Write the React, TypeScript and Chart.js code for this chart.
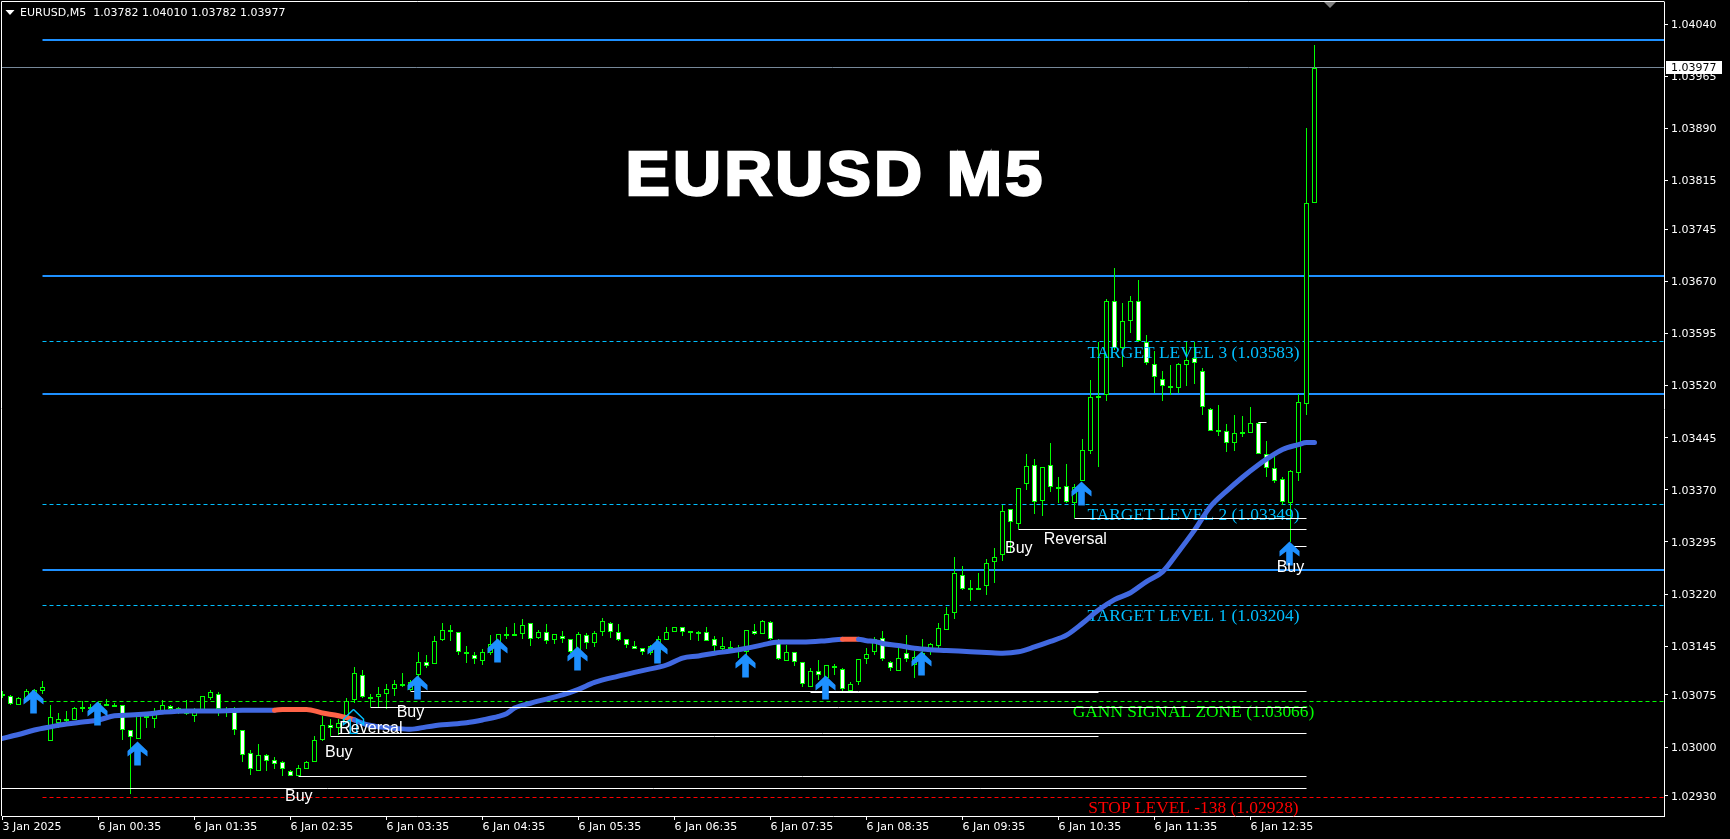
import React, { useEffect, useRef } from 'react';
import { Chart, registerables } from 'chart.js';

Chart.register(...registerables);

// ---- Candles (bar index 0 .. 164, 5-minute bars) ----
const opens = [
  1.03075,1.03074,1.03061,1.03068,1.03072,1.03081,1.03008,1.03034,1.03039,1.03039,
  1.03056,1.03057,1.03051,1.03061,1.03060,1.03061,1.03024,1.03012,1.03043,1.03041,
  1.03052,1.03059,1.03055,1.03055,1.03045,1.03053,1.03071,1.03077,1.03053,1.03056,
  1.03024,1.02991,1.02966,1.02989,1.02982,1.02979,1.02966,1.02959,1.02969,1.02979,
  1.03010,1.03031,1.03027,1.03036,1.03067,1.03103,1.03071,1.03072,1.03077,1.03083,
  1.03090,1.03082,1.03104,1.03123,1.03120,1.03154,1.03168,1.03165,1.03135,1.03133,
  1.03124,1.03135,1.03149,1.03162,1.03162,1.03162,1.03178,1.03157,1.03165,1.03154,
  1.03160,1.03155,1.03140,1.03161,1.03150,1.03165,1.03179,1.03165,1.03155,1.03146,
  1.03143,1.03135,1.03135,1.03154,1.03165,1.03172,1.03166,1.03165,1.03166,1.03155,
  1.03141,1.03143,1.03142,1.03136,1.03167,1.03162,1.03180,1.03154,1.03124,1.03136,
  1.03122,1.03087,1.03110,1.03099,1.03116,1.03112,1.03081,1.03093,1.03126,1.03136,
  1.03157,1.03123,1.03110,1.03135,1.03118,1.03127,1.03139,1.03146,1.03169,1.03193,
  1.03248,1.03228,1.03228,1.03231,1.03266,1.03276,1.03342,1.03321,1.03378,1.03405,
  1.03354,1.03405,1.03373,1.03375,1.03351,1.03382,1.03426,1.03504,1.03506,1.03641,
  1.03574,1.03613,1.03642,1.03583,1.03551,1.03530,1.03520,1.03517,1.03550,1.03559,
  1.03541,1.03486,1.03455,1.03455,1.03438,1.03452,1.03452,1.03466,1.03422,1.03402,
  1.03385,1.03351,1.03394,1.03494,1.03782,
];
const highs = [
  1.03080,1.03075,1.03072,1.03084,1.03084,1.03095,1.03061,1.03049,1.03052,1.03057,
  1.03066,1.03062,1.03066,1.03069,1.03064,1.03061,1.03025,1.03051,1.03051,1.03056,
  1.03067,1.03061,1.03058,1.03067,1.03056,1.03074,1.03082,1.03079,1.03057,1.03057,
  1.03025,1.02996,1.03005,1.02990,1.02985,1.02980,1.02967,1.02974,1.02980,1.03016,
  1.03045,1.03041,1.03041,1.03070,1.03115,1.03111,1.03076,1.03086,1.03091,1.03096,
  1.03106,1.03096,1.03137,1.03133,1.03160,1.03178,1.03175,1.03165,1.03145,1.03137,
  1.03141,1.03161,1.03163,1.03172,1.03178,1.03184,1.03178,1.03169,1.03177,1.03162,
  1.03167,1.03156,1.03165,1.03164,1.03167,1.03185,1.03180,1.03177,1.03155,1.03152,
  1.03143,1.03147,1.03159,1.03172,1.03172,1.03172,1.03167,1.03167,1.03172,1.03160,
  1.03158,1.03152,1.03147,1.03168,1.03177,1.03183,1.03182,1.03155,1.03147,1.03136,
  1.03122,1.03113,1.03125,1.03118,1.03119,1.03113,1.03093,1.03126,1.03143,1.03158,
  1.03167,1.03124,1.03143,1.03161,1.03138,1.03155,1.03150,1.03178,1.03202,1.03274,
  1.03260,1.03240,1.03251,1.03271,1.03286,1.03348,1.03343,1.03373,1.03422,1.03415,
  1.03403,1.03437,1.03388,1.03407,1.03378,1.03443,1.03528,1.03583,1.03644,1.03689,
  1.03638,1.03649,1.03672,1.03593,1.03569,1.03541,1.03550,1.03552,1.03583,1.03583,
  1.03545,1.03488,1.03492,1.03465,1.03478,1.03476,1.03489,1.03467,1.03440,1.03425,
  1.03388,1.03398,1.03508,1.03890,1.04010,
];
const lows = [
  1.03070,1.03061,1.03060,1.03068,1.03070,1.03077,1.03008,1.03027,1.03035,1.03039,
  1.03051,1.03051,1.03050,1.03059,1.03059,1.03010,1.02933,1.03011,1.03027,1.03027,
  1.03048,1.03053,1.03048,1.03046,1.03036,1.03053,1.03068,1.03044,1.03043,1.03017,
  1.02978,1.02960,1.02966,1.02965,1.02969,1.02959,1.02959,1.02959,1.02969,1.02979,
  1.03008,1.03016,1.03017,1.03035,1.03063,1.03071,1.03057,1.03058,1.03054,1.03073,
  1.03087,1.03080,1.03100,1.03114,1.03120,1.03153,1.03152,1.03132,1.03121,1.03120,
  1.03118,1.03132,1.03147,1.03155,1.03161,1.03155,1.03145,1.03155,1.03148,1.03148,
  1.03149,1.03135,1.03135,1.03141,1.03144,1.03159,1.03157,1.03153,1.03143,1.03141,
  1.03132,1.03132,1.03135,1.03154,1.03165,1.03160,1.03154,1.03152,1.03152,1.03138,
  1.03138,1.03140,1.03128,1.03132,1.03161,1.03162,1.03154,1.03125,1.03124,1.03117,
  1.03087,1.03086,1.03096,1.03085,1.03104,1.03081,1.03081,1.03089,1.03120,1.03132,
  1.03124,1.03110,1.03110,1.03122,1.03100,1.03125,1.03133,1.03142,1.03168,1.03184,
  1.03226,1.03210,1.03227,1.03218,1.03236,1.03267,1.03280,1.03313,1.03370,1.03335,
  1.03332,1.03367,1.03351,1.03351,1.03329,1.03382,1.03422,1.03403,1.03498,1.03571,
  1.03547,1.03596,1.03583,1.03550,1.03509,1.03498,1.03506,1.03509,1.03520,1.03522,
  1.03478,1.03454,1.03447,1.03425,1.03426,1.03446,1.03452,1.03421,1.03389,1.03380,
  1.03348,1.03295,1.03383,1.03478,1.03782,
];
const closes = [
  1.03076,1.03062,1.03071,1.03080,1.03082,1.03086,1.03043,1.03040,1.03040,1.03056,
  1.03057,1.03058,1.03063,1.03062,1.03061,1.03025,1.03015,1.03044,1.03044,1.03052,
  1.03060,1.03055,1.03056,1.03047,1.03051,1.03073,1.03079,1.03054,1.03052,1.03025,
  1.02989,1.02969,1.02988,1.02980,1.02975,1.02968,1.02959,1.02970,1.02979,1.03010,
  1.03031,1.03027,1.03035,1.03066,1.03106,1.03072,1.03072,1.03077,1.03084,1.03090,
  1.03091,1.03094,1.03123,1.03116,1.03153,1.03169,1.03165,1.03137,1.03136,1.03126,
  1.03136,1.03148,1.03162,1.03163,1.03163,1.03176,1.03156,1.03165,1.03152,1.03162,
  1.03156,1.03136,1.03162,1.03149,1.03164,1.03181,1.03165,1.03154,1.03147,1.03141,
  1.03136,1.03146,1.03155,1.03166,1.03172,1.03165,1.03167,1.03166,1.03153,1.03145,
  1.03146,1.03144,1.03143,1.03168,1.03162,1.03182,1.03155,1.03126,1.03136,1.03123,
  1.03090,1.03110,1.03103,1.03118,1.03113,1.03083,1.03091,1.03126,1.03134,1.03156,
  1.03126,1.03113,1.03128,1.03126,1.03130,1.03135,1.03148,1.03171,1.03192,1.03250,
  1.03227,1.03229,1.03229,1.03264,1.03274,1.03340,1.03323,1.03372,1.03404,1.03353,
  1.03403,1.03374,1.03374,1.03353,1.03374,1.03427,1.03503,1.03505,1.03642,1.03574,
  1.03613,1.03641,1.03584,1.03553,1.03532,1.03520,1.03516,1.03551,1.03556,1.03552,
  1.03489,1.03455,1.03456,1.03437,1.03451,1.03453,1.03466,1.03422,1.03401,1.03383,
  1.03353,1.03397,1.03497,1.03782,1.03977,
];

// ---- Moving average, read at these bars ----
const maBars = [0,2,4,6,8,10,12,14,16,18,20,23,27,30,34,35,38,40,42,44,45,47,49,51,53,55,58,60,62,63,64,66,68,70,72,74,77,80,83,85,87,89,91,93,95,97,100,103,105,107,108,109,110,112,114,116,118,121,123,125,127,129,131,133,135,137,139,141,143,145,147,149,151,153,155,157,158,160,162,163,164];
const maValues = [1.030125,1.03018,1.030245,1.03029,1.03033,1.03036,1.03039,1.03045,1.03046,1.030475,1.0305,1.03052,1.03052,1.03053,1.03053,1.03054,1.03054,1.03049,1.03045,1.03039,1.03034,1.03029,1.03027,1.030255,1.03029,1.03032,1.03035,1.03039,1.03044,1.03048,1.03056,1.03063,1.03069,1.03075,1.03083,1.03093,1.03102,1.0311,1.03118,1.03128,1.03131,1.03135,1.03138,1.03142,1.03147,1.03151,1.03151,1.03153,1.03155,1.03155,1.03153,1.03152,1.03149,1.03146,1.03142,1.0314,1.03139,1.03137,1.03136,1.03135,1.03137,1.03144,1.03152,1.03161,1.03178,1.03197,1.03212,1.03222,1.03238,1.03252,1.03281,1.03312,1.03346,1.03368,1.03388,1.03406,1.03414,1.03428,1.03435,1.03438,1.03438];
const maRedSpans = [[31, 44], [105, 107]];

// ---- Signal arrows ----
const arrowBars = [4, 12, 17, 52, 62, 72, 82, 93, 103, 115, 135, 161];
const arrowPrices = [1.03066, 1.03048, 1.02991, 1.03086, 1.03139, 1.03127, 1.03138, 1.03118, 1.03086, 1.0312, 1.03365, 1.03278];
const hollowArrowBars = [44];
const hollowArrowPrices = [1.03037];

// ---- Horizontal levels ----
const blueLevels = [1.04017, 1.03678, 1.03508, 1.03255];
const dashedPrices = [1.03583, 1.03349, 1.03204, 1.03066, 1.02928];
const dashedColors = ['#00BFFF', '#00BFFF', '#00BFFF', '#00FF00', '#FF0000'];
const levelStartBar = 5;
const lastPrice = 1.03977;

// white trend lines: start bar, end bar, price
const whiteStart = [-1, 37, 41, 42, 46, 51, 101, 134, 127, 161, 157];
const whiteEnd = [163, 163, 137, 163, 163, 163, 137, 163, 163, 163, 158];
const whitePrice = [1.02941, 1.02958, 1.03015, 1.0302, 1.03057, 1.0308, 1.03079, 1.03329, 1.03313, 1.03289, 1.03467];

// ---- Texts on the chart ----
const levelTexts = ['TARGET LEVEL 3 (1.03583)', 'TARGET LEVEL 2 (1.03349)', 'TARGET LEVEL 1 (1.03204)', 'GANN SIGNAL ZONE (1.03066)', 'STOP LEVEL -138 (1.02928)'];
const levelTextPrices = [1.0356, 1.033266, 1.031813, 1.030436, 1.029055];
const levelTextBar = 148.875;
const signalTexts = ['Buy', 'Buy', 'Reversal', 'Buy', 'Buy', 'Reversal', 'Buy'];
const signalBars = [35.31, 40.31, 42.1, 49.27, 125.31, 130.15, 159.27];
const signalPrices = [1.029228, 1.029852, 1.030206, 1.030436, 1.032787, 1.03292, 1.032522];
const titleText = 'EURUSD M5';
const headerText = 'EURUSD,M5  1.03782 1.04010 1.03782 1.03977';

// ---- Axes ----
const yTicks = [1.0404, 1.03965, 1.0389, 1.03815, 1.03745, 1.0367, 1.03595, 1.0352, 1.03445, 1.0337, 1.03295, 1.0322, 1.03145, 1.03075, 1.03, 1.0293];
const xTickBars = [0, 12, 24, 36, 48, 60, 72, 84, 96, 108, 120, 132, 144, 156];
const xTickLabels = ['3 Jan 2025', '6 Jan 00:35', '6 Jan 01:35', '6 Jan 02:35', '6 Jan 03:35', '6 Jan 04:35', '6 Jan 05:35', '6 Jan 06:35', '6 Jan 07:35', '6 Jan 08:35', '6 Jan 09:35', '6 Jan 10:35', '6 Jan 11:35', '6 Jan 12:35'];

const W = 1730;
const H = 839;
const LIME = '#00FF00';
const UI_FONT = '"DejaVu Sans"';
const AREA = { left: 2, top: 2, right: 1664, bottom: 816 };

function makeArrow(hollow: boolean) {
  const c = document.createElement('canvas');
  c.width = 25;
  c.height = 25;
  const g = c.getContext('2d')!;
  const m = 11.5;
  g.beginPath();
  g.moveTo(m, 0.5);
  g.lineTo(m + 10, 10);
  g.lineTo(m + 10, 15.5);
  g.lineTo(m + 3.3, 10.5);
  g.lineTo(m + 3.3, 24.5);
  g.lineTo(m - 3.3, 24.5);
  g.lineTo(m - 3.3, 10.5);
  g.lineTo(m - 10, 15.5);
  g.lineTo(m - 10, 10);
  g.closePath();
  if (hollow) {
    g.strokeStyle = '#00BFFF';
    g.lineWidth = 1.5;
    g.stroke();
  } else {
    g.fillStyle = '#1E90FF';
    g.fill();
  }
  return c;
}

const chartPlugin = {
  id: 'mt4',
  afterLayout(chart: any) {
    // pin the plot rectangle to the terminal's exact layout
    const area = chart.chartArea;
    area.left = AREA.left; area.top = AREA.top; area.right = AREA.right; area.bottom = AREA.bottom;
    area.width = AREA.right - AREA.left; area.height = AREA.bottom - AREA.top;
    const { x, y } = chart.scales;
    x.left = AREA.left; x.right = AREA.right; x.width = area.width; x.top = AREA.bottom; x.bottom = H; x.height = H - AREA.bottom;
    y.left = AREA.right; y.right = W; y.width = W - AREA.right; y.top = AREA.top; y.bottom = AREA.bottom; y.height = area.height;
    x.configure();
    y.configure();
  },
  beforeDraw(chart: any) {
    const g = chart.ctx;
    g.save();
    g.fillStyle = '#000';
    g.fillRect(0, 0, W, H);
    g.restore();
  },
  afterDatasetsUpdate(chart: any) {
    chart.data.datasets.forEach((ds: any, i: number) => {
      const meta = chart.getDatasetMeta(i);
      if (ds.label === 'wicks' || ds.label === 'bodies') {
        meta.data.forEach((el: any) => {
          const top = Math.round(Math.min(el.y, el.base));
          let bot = Math.round(Math.max(el.y, el.base));
          const minH = ds.label === 'bodies' ? 2 : 1;
          if (bot - top < minH) bot = top + minH;
          el.y = top;
          el.base = bot;
        });
      } else if (ds.snap === 'odd') {
        meta.data.forEach((el: any) => { el.y = Math.floor(el.y) + 0.5; });
      } else if (ds.snap === 'even') {
        meta.data.forEach((el: any) => { el.y = Math.round(el.y); });
      }
    });
  },
  afterDatasetDraw(chart: any, args: any) {
    if (chart.data.datasets[args.index].label !== 'bodies') return;
    const g = chart.ctx;
    const { x, y } = chart.scales;
    g.save();
    g.font = '17.4px "Liberation Serif"';
    g.textAlign = 'center';
    g.textBaseline = 'alphabetic';
    levelTexts.forEach((t, i) => {
      g.fillStyle = dashedColors[i];
      g.fillText(t, x.getPixelForValue(levelTextBar), y.getPixelForValue(levelTextPrices[i]));
    });
    g.restore();
  },
  afterDraw(chart: any) {
    const g = chart.ctx;
    const { x, y } = chart.scales;
    const area = chart.chartArea;
    g.save();
    // frame
    g.strokeStyle = '#fff';
    g.lineWidth = 1;
    g.beginPath();
    g.moveTo(1.5, area.bottom);
    g.lineTo(1.5, 1.5);
    g.lineTo(area.right + 0.5, 1.5);
    g.stroke();
    // chart-shift marker
    g.fillStyle = '#808080';
    g.beginPath();
    g.moveTo(1324, 2);
    g.lineTo(1336, 2);
    g.lineTo(1330, 8);
    g.closePath();
    g.fill();
    // signal labels
    g.fillStyle = '#fff';
    g.font = '16px "Liberation Sans"';
    g.textAlign = 'left';
    g.textBaseline = 'alphabetic';
    signalTexts.forEach((t, i) => {
      g.fillText(t, x.getPixelForValue(signalBars[i]), y.getPixelForValue(signalPrices[i]));
    });
    // title
    g.save();
    g.translate(625.5, 195);
    g.scale(1.055, 1);
    g.font = 'bold 63px "Liberation Sans"';
    (g as any).letterSpacing = '3px';
    g.strokeStyle = '#fff';
    g.lineWidth = 2.5;
    g.lineJoin = 'miter';
    g.fillText(titleText, 0, 0);
    g.strokeText(titleText, 0, 0);
    g.restore();
    // header
    g.fillStyle = '#fff';
    g.beginPath();
    g.moveTo(5.5, 10);
    g.lineTo(14.5, 10);
    g.lineTo(10, 15);
    g.closePath();
    g.fill();
    g.font = `11px ${UI_FONT}`;
    g.textBaseline = 'middle';
    g.fillText(headerText, 20, 13);
    // last-price tag
    const py = Math.floor(y.getPixelForValue(lastPrice)) + 0.5;
    g.fillStyle = '#fff';
    g.fillRect(1666, py - 6.5, 56, 13);
    g.fillStyle = '#000';
    g.fillText(lastPrice.toFixed(5), 1671, py + 0.5);
    g.restore();
  },
};

export default function App() {
  const ref = useRef<HTMLCanvasElement>(null);

  useEffect(() => {
    const bars = opens.map((_, i) => i);
    const flat = (s: number, e: number, p: number) => [{ x: s, y: p }, { x: e, y: p }];
    const datasets: any[] = [];

    blueLevels.forEach((p, i) => {
      datasets.push({
        type: 'line', label: `level-${i}`, data: flat(levelStartBar, 207.7, p),
        borderColor: '#1E90FF', borderWidth: 2, pointRadius: 0, order: 7, snap: 'even',
      });
    });
    dashedPrices.forEach((p, i) => {
      datasets.push({
        type: 'line', label: `dashed-${i}`, data: flat(levelStartBar, 207.7, p),
        borderColor: dashedColors[i], borderWidth: 1, borderDash: [4, 3], pointRadius: 0, order: 7, snap: 'odd',
      });
    });
    datasets.push({
      type: 'line', label: 'last', data: flat(-1, 207.7, lastPrice),
      borderColor: '#778899', borderWidth: 1, pointRadius: 0, order: 6, snap: 'odd',
    });
    datasets.push({
      type: 'bar', label: 'wicks',
      data: bars.map((i) => ({ x: i, y: [lows[i], highs[i]] })),
      backgroundColor: LIME, borderWidth: 0, barThickness: 1, inflateAmount: 0, grouped: false, order: 5,
    });
    datasets.push({
      type: 'bar', label: 'bodies',
      data: bars.map((i) => ({ x: i, y: [opens[i], closes[i]] })),
      backgroundColor: bars.map((i) => (closes[i] >= opens[i] ? '#000' : '#fff')),
      borderColor: LIME, borderWidth: 1, borderSkipped: false, barThickness: 5, inflateAmount: 0, grouped: false, order: 4,
    });
    datasets.push({
      type: 'line', label: 'ma',
      data: maBars.map((b, i) => ({ x: b, y: maValues[i] })),
      borderColor: '#4169E1', borderWidth: 5, pointRadius: 0, order: 3,
      borderCapStyle: 'round', borderJoinStyle: 'round', cubicInterpolationMode: 'monotone',
      segment: {
        borderColor: (ctx: any) => {
          const b = maBars[ctx.p0DataIndex];
          return maRedSpans.some(([s, e]) => b >= s && b < e) ? '#FF6347' : '#4169E1';
        },
      },
    });
    whitePrice.forEach((p, i) => {
      datasets.push({
        type: 'line', label: `white-${i}`, data: flat(whiteStart[i], whiteEnd[i], p),
        borderColor: '#fff', borderWidth: 1, pointRadius: 0, order: 2, snap: 'odd',
      });
    });
    datasets.push({
      type: 'scatter', label: 'hollow-arrows',
      data: hollowArrowBars.map((b, i) => ({ x: b, y: hollowArrowPrices[i] })),
      pointStyle: makeArrow(true), pointRadius: 5, order: 1, snap: 'odd',
    });
    datasets.push({
      type: 'scatter', label: 'arrows',
      data: arrowBars.map((b, i) => ({ x: b, y: arrowPrices[i] })),
      pointStyle: makeArrow(false), pointRadius: 5, order: 0, snap: 'odd',
    });

    const chart = new Chart(ref.current!, {
      type: 'bar',
      data: { datasets },
      plugins: [chartPlugin],
      options: {
        animation: false,
        responsive: false,
        devicePixelRatio: 1,
        events: [],
        layout: { padding: { left: 2, top: 2, right: 0, bottom: 0 } },
        plugins: { legend: { display: false }, tooltip: { enabled: false }, title: { display: false } },
        scales: {
          x: {
            type: 'linear', offset: false, bounds: 'data',
            min: -0.0625, max: 207.6875,
            grid: { offset: false, drawOnChartArea: false, drawTicks: true, tickLength: 4, color: '#fff' },
            border: { display: true, color: '#fff', width: 1 },
            afterBuildTicks: (s: any) => { s.ticks = xTickBars.map((v) => ({ value: v })); },
            afterFit: (s: any) => {
              s.height = 23;
              s.paddingLeft = 0; s.paddingRight = 0; s.paddingTop = 0; s.paddingBottom = 0;
            },
            ticks: {
              autoSkip: false, maxRotation: 0, minRotation: 0, align: 'start', padding: 1,
              color: '#fff', font: { family: 'DejaVu Sans', size: 11 },
              callback: (v: any) => xTickLabels[xTickBars.indexOf(v)] ?? '',
            },
          },
          y: {
            type: 'linear', position: 'right', bounds: 'data',
            min: 1.029008, max: 1.0407167,
            grid: { drawOnChartArea: false, drawTicks: true, tickLength: 4, color: '#fff' },
            border: { display: true, color: '#fff', width: 1 },
            afterBuildTicks: (s: any) => { s.ticks = yTicks.map((v) => ({ value: v })); },
            afterFit: (s: any) => {
              s.width = 66;
              s.paddingLeft = 0; s.paddingRight = 0; s.paddingTop = 0; s.paddingBottom = 0;
            },
            ticks: {
              autoSkip: false, padding: 3, crossAlign: 'near', labelOffset: 1,
              color: '#fff', font: { family: 'DejaVu Sans', size: 11 },
              callback: (v: any) => Number(v).toFixed(5),
            },
          },
        },
      } as any,
    } as any);

    return () => chart.destroy();
  }, []);

  return (
    <div style={{ position: 'fixed', left: 0, top: 0, width: W, height: H, background: '#000' }}>
      <canvas ref={ref} width={W} height={H} style={{ display: 'block', width: W, height: H }} />
    </div>
  );
}
